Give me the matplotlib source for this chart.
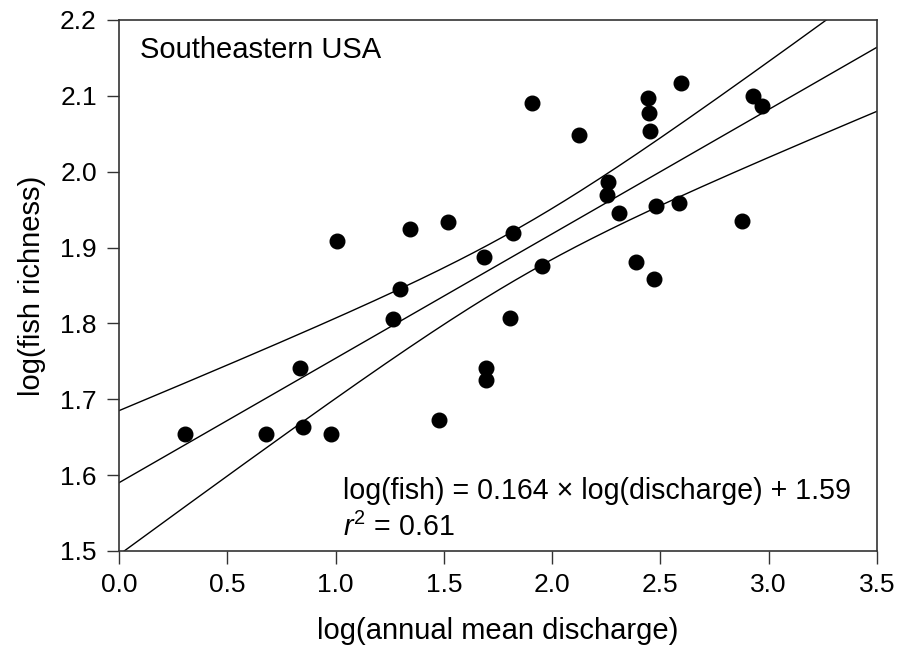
import numpy as np
import matplotlib.pyplot as plt

plt.rcParams['font.family'] = ['Liberation Sans', 'DejaVu Sans']
plt.rcParams['mathtext.fontset'] = 'custom'
plt.rcParams['mathtext.rm'] = 'Liberation Sans'
plt.rcParams['mathtext.it'] = 'Liberation Sans:italic'

# log(annual mean discharge) and log(fish richness) for each river
discharge = [0.305, 0.677, 0.837, 0.848, 0.977, 1.005, 1.263, 1.297, 1.343,
             1.479, 1.517, 1.687, 1.697, 1.697, 1.805, 1.820, 1.905, 1.954,
             2.125, 2.253, 2.258, 2.307, 2.388, 2.441, 2.448, 2.452, 2.470,
             2.479, 2.587, 2.595, 2.876, 2.926, 2.967]
richness = [1.654, 1.654, 1.741, 1.663, 1.654, 1.909, 1.806, 1.846, 1.925,
            1.673, 1.934, 1.887, 1.741, 1.725, 1.807, 1.919, 2.090, 1.876,
            2.049, 1.969, 1.987, 1.945, 1.881, 2.097, 2.078, 2.053, 1.858,
            1.955, 1.959, 2.117, 1.935, 2.100, 2.086]

slope = 0.164
intercept = 1.59
r2 = 0.61

x = np.array(discharge)
y = np.array(richness)
n = len(x)

# 95% confidence band for the fitted mean
xs = np.linspace(0, 3.5, 200)
fit = slope * xs + intercept
resid = y - (slope * x + intercept)
s = np.sqrt(np.sum(resid ** 2) / (n - 2))
sxx = np.sum((x - x.mean()) ** 2)
t = 2.040
half = t * s * np.sqrt(1 / n + (xs - x.mean()) ** 2 / sxx)

fig = plt.figure(figsize=(9.05, 6.48), dpi=100)
ax = fig.add_axes([0.1315, 0.1497, 0.8375, 0.8195])

ax.plot(xs, fit, color='black', lw=1.0)
ax.plot(xs, fit + half, color='black', lw=1.0)
ax.plot(xs, fit - half, color='black', lw=1.0)
ax.plot(x, y, 'o', color='black', markersize=10.5, zorder=3)

ax.set_xlim(0, 3.5)
ax.set_ylim(1.5, 2.2)
ax.set_xticks(np.arange(0, 3.51, 0.5))
ax.set_yticks(np.arange(1.5, 2.21, 0.1))
ax.set_xticklabels([f'{v:.1f}' for v in np.arange(0, 3.51, 0.5)])
ax.set_yticklabels([f'{v:.1f}' for v in np.arange(1.5, 2.21, 0.1)])
ax.tick_params(direction='out', length=9, width=1, labelsize=19,
               color='#333333', pad=7)
for sp in ax.spines.values():
    sp.set_color('#333333')
    sp.set_linewidth(1.2)

ax.set_xlabel('log(annual mean discharge)', fontsize=21, labelpad=14)
ax.set_ylabel('log(fish richness)', fontsize=21, labelpad=10)

ax.text(0.095, 2.16, 'Southeastern USA', fontsize=21, va='center')
ax.text(1.034, 1.579, 'log(fish) = %.3f × log(discharge) + %.2f' % (slope, intercept),
        fontsize=20.6, va='center')
ax.text(1.034, 1.531, r'$r^2$ = %.2f' % r2, fontsize=20.6, va='center')

fig.savefig('out.png', dpi=100)
